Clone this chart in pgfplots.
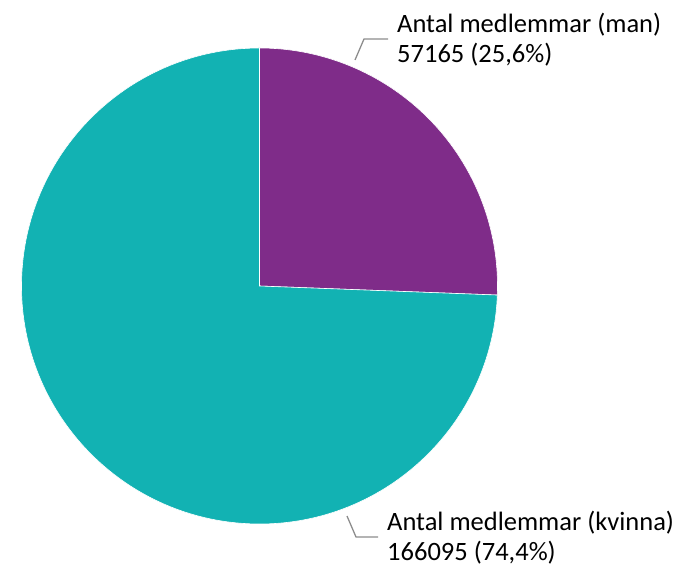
\documentclass[border=0pt]{standalone}
\usepackage{pgfplots}
\pgfplotsset{compat=1.18}
\usepackage{fontspec}
\setmainfont{Carlito}
\definecolor{manpurple}{HTML}{7F2C89}
\definecolor{kvinnateal}{HTML}{12B2B3}
\definecolor{leadergray}{HTML}{8C8C8C}

% member counts
\def\nman{57165}
\def\nkvinna{166095}
\edef\angman{\fpeval{360*\nman/(\nman+\nkvinna)}}
\edef\angend{\fpeval{90-\angman}}

\tikzset{lbl/.style={font=\fontsize{26.5}{30}\selectfont, inner sep=0pt, anchor=base west}}

\begin{document}
\begin{tikzpicture}
\begin{axis}[
  hide axis, scale only axis,
  width=679pt, height=567pt,
  xmin=0, xmax=679, ymin=0, ymax=567,
  clip=false
]
\path (axis cs:0,0) rectangle (axis cs:679,567);
% slices, clockwise from 12 o'clock
\fill[manpurple, draw=white, line width=0.6pt] (axis cs:259.5,281) -- ++(90:238pt)
  arc[start angle=90, end angle=\angend, radius=238pt] -- cycle;
\fill[kvinnateal, draw=white, line width=0.6pt] (axis cs:259.5,281) -- ++(\angend:238pt)
  arc[start angle=\angend, end angle=-270, radius=238pt] -- cycle;
% leader lines
\draw[leadergray, line width=1.3pt] (axis cs:355,507) -- (axis cs:364,528) -- (axis cs:388,528);
\draw[leadergray, line width=1.3pt] (axis cs:347,51) -- (axis cs:356,30) -- (axis cs:378,30);
% labels
\node[lbl] at (axis cs:397,534) {Antal medlemmar (man)};
\node[lbl] at (axis cs:397,504) {57165 (25,6\%)};
\node[lbl] at (axis cs:387,37) {Antal medlemmar (kvinna)};
\node[lbl] at (axis cs:387,7) {166095 (74,4\%)};
\end{axis}
\end{tikzpicture}
\end{document}
